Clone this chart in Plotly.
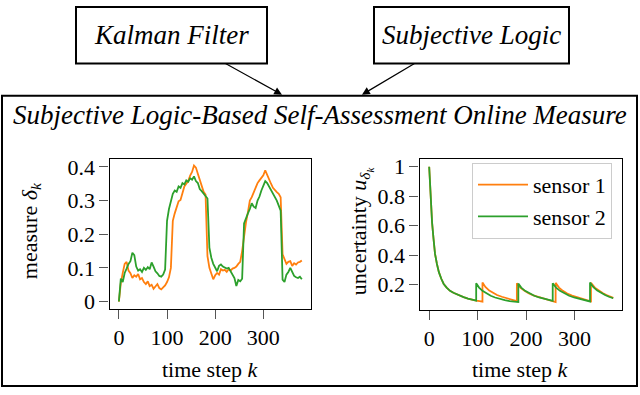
import plotly.graph_objects as go

# time steps for the measure plot
steps = [0, 4, 8, 12, 16, 20, 24, 28, 32, 36, 40, 44, 48, 52, 56, 60, 64, 68, 72, 76,
         80, 84, 88, 92, 96, 100, 104, 108, 112, 116, 120, 124, 128, 132, 136, 140, 144, 148, 152, 156,
         160, 164, 168, 172, 176, 180, 184, 188, 192, 196, 200, 204, 208, 212, 216, 220, 224, 228, 232, 236,
         240, 244, 248, 252, 256, 260, 264, 268, 272, 276, 280, 284, 288, 292, 296, 300, 304, 308, 312, 316,
         320, 324, 328, 332, 336, 340, 344, 348, 352, 356, 360, 364, 368, 372, 376, 380]

# measure delta_k, sensor 1 (orange)
delta_s1 = [0.000, 0.055, 0.085, 0.112, 0.118, 0.092, 0.084, 0.070, 0.078, 0.074, 0.082, 0.066, 0.070, 0.058, 0.052, 0.060, 0.046, 0.050, 0.038, 0.046,
            0.052, 0.040, 0.036, 0.042, 0.048, 0.058, 0.072, 0.100, 0.240, 0.262, 0.280, 0.298, 0.302, 0.325, 0.342, 0.350, 0.358, 0.374, 0.385, 0.404,
            0.398, 0.380, 0.360, 0.340, 0.326, 0.318, 0.135, 0.100, 0.085, 0.066, 0.078, 0.085, 0.080, 0.096, 0.092, 0.094, 0.088, 0.096, 0.092, 0.098,
            0.100, 0.104, 0.112, 0.118, 0.150, 0.200, 0.235, 0.265, 0.300, 0.310, 0.325, 0.340, 0.352, 0.360, 0.368, 0.375, 0.390, 0.375, 0.360, 0.350,
            0.338, 0.330, 0.325, 0.320, 0.310, 0.140, 0.125, 0.112, 0.118, 0.120, 0.106, 0.114, 0.110, 0.116, 0.118, 0.122]

# measure delta_k, sensor 2 (green)
delta_s2 = [0.000, 0.068, 0.058, 0.085, 0.098, 0.112, 0.120, 0.145, 0.138, 0.104, 0.092, 0.096, 0.088, 0.100, 0.094, 0.102, 0.096, 0.116, 0.104, 0.090,
            0.084, 0.076, 0.074, 0.080, 0.095, 0.240, 0.275, 0.300, 0.320, 0.330, 0.326, 0.342, 0.338, 0.352, 0.348, 0.360, 0.356, 0.366, 0.362, 0.372,
            0.358, 0.352, 0.334, 0.328, 0.320, 0.312, 0.306, 0.160, 0.130, 0.112, 0.100, 0.090, 0.106, 0.110, 0.104, 0.100, 0.098, 0.100, 0.090, 0.080,
            0.070, 0.046, 0.064, 0.060, 0.068, 0.232, 0.250, 0.262, 0.275, 0.292, 0.282, 0.278, 0.300, 0.312, 0.330, 0.345, 0.358, 0.352, 0.342, 0.332,
            0.324, 0.312, 0.300, 0.285, 0.270, 0.065, 0.058, 0.080, 0.088, 0.100, 0.085, 0.076, 0.072, 0.070, 0.074, 0.066]

# uncertainty u, sensor 1
k_u1 = [0, 3, 6, 9, 12, 16, 20, 25, 30, 36, 43, 50, 57, 64, 71, 80, 88, 97, 104, 110,
        110, 116, 124, 132, 140, 150, 160, 170, 181,
        181, 188, 196, 205, 215, 225, 235, 245, 255, 261,
        261, 268, 276, 285, 295, 305, 315, 325, 334,
        334, 342, 350, 358, 366, 374, 380]
u_s1 = [1.0, 0.78, 0.62, 0.51, 0.41, 0.34, 0.285, 0.24, 0.205, 0.18, 0.158, 0.145, 0.134, 0.124, 0.116, 0.106, 0.098, 0.092, 0.088, 0.085,
        0.215, 0.185, 0.160, 0.142, 0.130, 0.118, 0.107, 0.098, 0.088,
        0.210, 0.180, 0.160, 0.142, 0.128, 0.117, 0.106, 0.097, 0.088, 0.082,
        0.212, 0.180, 0.158, 0.140, 0.126, 0.114, 0.104, 0.095, 0.087,
        0.212, 0.180, 0.160, 0.143, 0.130, 0.118, 0.110]

# uncertainty u, sensor 2
k_u2 = [0, 3, 6, 9, 12, 16, 20, 25, 30, 36, 43, 50, 57, 64, 71, 80, 88, 97,
        97, 103, 110, 118, 127, 136, 146, 156, 166, 176, 184,
        184, 190, 198, 207, 217, 227, 237, 247, 255,
        255, 262, 270, 279, 289, 299, 309, 319, 326, 332,
        332, 339, 347, 355, 363, 371, 380]
u_s2 = [1.0, 0.78, 0.62, 0.51, 0.41, 0.34, 0.285, 0.24, 0.205, 0.18, 0.158, 0.145, 0.134, 0.124, 0.116, 0.106, 0.098, 0.092,
        0.210, 0.180, 0.158, 0.140, 0.125, 0.113, 0.103, 0.095, 0.089, 0.085, 0.082,
        0.208, 0.180, 0.158, 0.140, 0.125, 0.113, 0.104, 0.096, 0.090,
        0.210, 0.180, 0.158, 0.140, 0.125, 0.113, 0.104, 0.096, 0.090, 0.086,
        0.215, 0.183, 0.160, 0.143, 0.130, 0.118, 0.108]

x_ticks = [0, 100, 200, 300]
delta_ticks = [0, 0.1, 0.2, 0.3, 0.4]
delta_ticklabels = ["0", "0.1", "0.2", "0.3", "0.4"]
u_ticks = [0.2, 0.4, 0.6, 0.8, 1]
u_ticklabels = ["0.2", "0.4", "0.6", "0.8", "1"]

ORANGE = "#ff7f0e"
GREEN = "#2ca02c"
SERIF = "Liberation Serif"
W, H = 640, 395

def px(x): return x / W
def py(y): return 1 - y / H

fig = go.Figure()
fig.add_trace(go.Scatter(x=steps, y=delta_s1, mode="lines", line=dict(color=ORANGE, width=1.8),
                         showlegend=False, xaxis="x", yaxis="y"))
fig.add_trace(go.Scatter(x=steps, y=delta_s2, mode="lines", line=dict(color=GREEN, width=1.8),
                         showlegend=False, xaxis="x", yaxis="y"))
fig.add_trace(go.Scatter(x=k_u1, y=u_s1, mode="lines", name="sensor 1",
                         line=dict(color=ORANGE, width=1.8), xaxis="x2", yaxis="y2"))
fig.add_trace(go.Scatter(x=k_u2, y=u_s2, mode="lines", name="sensor 2",
                         line=dict(color=GREEN, width=1.8), xaxis="x2", yaxis="y2"))

axis_style = dict(showline=True, mirror=True, linecolor="black", linewidth=1.2,
                  ticks="outside", ticklen=9, tickcolor="#555", tickwidth=1,
                  showgrid=False, zeroline=False,
                  tickfont=dict(family=SERIF, size=22, color="black"))

fig.update_layout(
    width=W, height=H, margin=dict(l=0, r=0, t=0, b=0),
    paper_bgcolor="white", plot_bgcolor="white",
    xaxis=dict(domain=[px(109.5), px(310.5)], range=[-19.5, 398], tickvals=x_ticks,
               anchor="y", **axis_style),
    yaxis=dict(domain=[py(311.5), py(157.5)], range=[-0.021, 0.425], tickvals=delta_ticks,
               ticktext=delta_ticklabels, anchor="x", **axis_style),
    xaxis2=dict(domain=[px(419.5), px(621.5)], range=[-20, 397], tickvals=x_ticks,
                anchor="y2", **axis_style),
    yaxis2=dict(domain=[py(312.5), py(158.5)], range=[0.031, 1.049], tickvals=u_ticks,
                ticktext=u_ticklabels, anchor="x2", **axis_style),
    legend=dict(x=px(472), y=py(162), xanchor="left", yanchor="top",
                bgcolor="white", bordercolor="#cccccc", borderwidth=1,
                itemwidth=50, tracegroupgap=2,
                font=dict(family=SERIF, size=22, color="black")),
)

# boxes of the diagram
line_blk = dict(color="black", width=2)
fig.add_shape(type="rect", xref="paper", yref="paper", x0=px(2), x1=px(637), y0=py(391), y1=py(93), line=line_blk)
fig.add_shape(type="rect", xref="paper", yref="paper", x0=px(76), x1=px(267), y0=py(60), y1=py(2), line=line_blk)
fig.add_shape(type="rect", xref="paper", yref="paper", x0=px(374), x1=px(569), y0=py(60), y1=py(2), line=line_blk)

def label(x, y, text, font, angle=0):
    fig.add_annotation(x=px(x), y=py(y), xref="paper", yref="paper", showarrow=False,
                       xanchor="center", yanchor="middle", textangle=angle,
                       text=text, font=font)

title_font = dict(family=SERIF, size=27, color="black")
label(171.5, 31, "<i>Kalman Filter</i>", title_font)
label(471.5, 31, "<i>Subjective Logic</i>", title_font)
label(320, 113, "<i>Subjective Logic-Based Self-Assessment Online Measure</i>", title_font)

# arrows into the big box
for (x0, x1) in [(224, 282), (416, 362)]:
    fig.add_annotation(x=px(x1), y=py(92), xref="paper", yref="paper",
                       ax=x0 - x1, ay=60 - 92, axref="pixel", ayref="pixel",
                       text="", showarrow=True, arrowhead=2, arrowsize=1.3,
                       arrowwidth=1.2, arrowcolor="black")

lab_font = dict(family=SERIF, size=22, color="black")
label(210, 374, "time step <i>k</i>", lab_font)
label(520.5, 374, "time step <i>k</i>", lab_font)
label(31, 232, "measure <i>δ<sub>k</sub></i>", lab_font, -90)
label(361, 232, "uncertainty <i>u<sub>δ<sub>k</sub></sub></i>", lab_font, -90)

fig.write_html("out.html", config={"displayModeBar": False},
               post_script="document.body.style.margin='0';document.body.style.overflow='hidden';")
